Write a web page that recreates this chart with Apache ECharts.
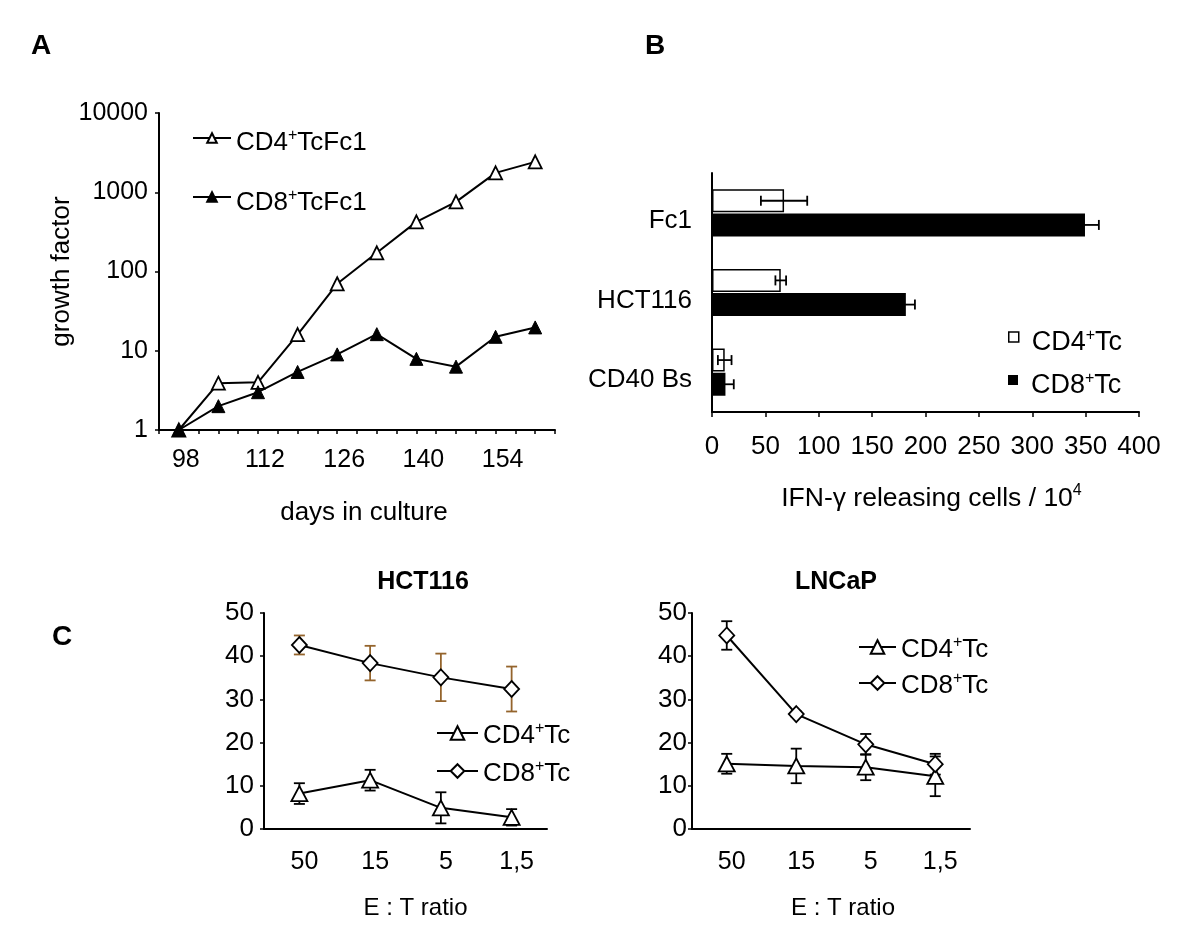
<!DOCTYPE html>
<html><head><meta charset="utf-8">
<script src="https://cdn.jsdelivr.net/npm/echarts@6/dist/echarts.min.js"></script>
<style>html,body{margin:0;padding:0;background:#fff}#c{width:1200px;height:928px}</style>
</head><body><div id="c"></div>
<script>
// ---------- data ----------
const daysA = [98, 105, 112, 119, 126, 133, 140, 147, 154, 161];
const growthCD4 = [1, 3.9, 4.0, 16, 70, 172, 423, 757, 1757, 2417];
const growthCD8 = [1, 2.0, 3.0, 5.4, 9.0, 16.2, 7.9, 6.3, 15.0, 19.7];

const targetsB = ['Fc1', 'HCT116', 'CD40 Bs'];
const ifnCD4 = [67.5, 64.4, 11.9];
const ifnCD4Err = [21.7, 5.0, 6.4];
const ifnCD8 = [349.4, 181.6, 12.6];
const ifnCD8Err = [13.0, 8.5, 7.8];

const ratios = ['50', '15', '5', '1,5'];
const hctCD4 = [8.2, 11.3, 4.9, 2.7];
const hctCD4Err = [2.4, 2.4, 3.6, 1.9];
const hctCD8 = [42.6, 38.4, 35.1, 32.4];
const hctCD8Err = [2.2, 4.0, 5.5, 5.2];
const lncCD4 = [15.1, 14.6, 14.3, 12.2];
const lncCD4Err = [2.3, 4.0, 3.0, 4.6];
const lncCD8 = [44.8, 26.6, 19.6, 15.0];
const lncCD8Err = [3.3, 0.6, 2.4, 2.4];

const yTicksA = [1, 10, 100, 1000, 10000];
const xLabelDaysA = [98, 112, 126, 140, 154];

// ---------- helpers ----------
const FONT = '"Liberation Sans", Arial, Helvetica, sans-serif';
const BLACK = '#000';
const BROWN = '#94642c';
function rich(fs) {
  const ss = Math.round(fs * 0.6);
  return {
    n: {fontSize: fs, fontFamily: FONT, color: BLACK, lineHeight: fs + 4},
    s: {fontSize: ss, fontFamily: FONT, color: BLACK, verticalAlign: 'top', lineHeight: ss + 2},
    c: {fontSize: fs, fontFamily: FONT, color: BLACK, lineHeight: fs + 4, padding: [16, 0, 0, 0]}
  };
}
const legendText = {
  'A-CD4': '{n|CD4}{s|+}{n|TcFc1}',
  'A-CD8': '{n|CD8}{s|+}{n|TcFc1}',
  'B-CD4': '{n|CD4}{s|+}{n|Tc}',
  'B-CD8': '{n|CD8}{s|+}{n|Tc}',
  'HCT-CD4': '{n|CD4}{s|+}{n|Tc}',
  'HCT-CD8': '{n|CD8}{s|+}{n|Tc}',
  'LNC-CD4': '{n|CD4}{s|+}{n|Tc}',
  'LNC-CD8': '{n|CD8}{s|+}{n|Tc}'
};
// cy = centre of the legend icon; pt = extra top padding of the text (text sits about pt/2 lower); pl = extra gap
function lg(name, left, cy, itemWidth, itemHeight, fs, pt, pl, extra) {
  const o = {
    data: [name], left: left, top: cy - (fs + 4) / 2 + pt / 2, orient: 'horizontal',
    itemWidth: itemWidth, itemHeight: itemHeight, padding: 0, selectedMode: false,
    formatter: n => legendText[n],
    textStyle: {fontFamily: FONT, fontSize: fs, color: BLACK, rich: rich(fs), padding: [pt, 0, 0, pl]}
  };
  return Object.assign(o, extra || {});
}
function vErr(color, cap) {
  return function (params, api) {
    const x = api.value(0), lo = api.value(1), hi = api.value(2);
    const a = api.coord([x, hi]), b = api.coord([x, lo]);
    const st = {stroke: color, lineWidth: 1.8, fill: null};
    return {type: 'group', children: [
      {type: 'line', shape: {x1: a[0], y1: a[1], x2: b[0], y2: b[1]}, style: st},
      {type: 'line', shape: {x1: a[0] - cap, y1: a[1], x2: a[0] + cap, y2: a[1]}, style: st},
      {type: 'line', shape: {x1: b[0] - cap, y1: b[1], x2: b[0] + cap, y2: b[1]}, style: st}
    ]};
  };
}
function hErr(offset, cap) {
  return function (params, api) {
    const lo = api.value(0), hi = api.value(1), c = api.value(2);
    const a = api.coord([lo, c]), b = api.coord([hi, c]);
    const y = a[1] + offset;
    const st = {stroke: BLACK, lineWidth: 1.8, fill: null};
    return {type: 'group', children: [
      {type: 'line', shape: {x1: a[0], y1: y, x2: b[0], y2: y}, style: st},
      {type: 'line', shape: {x1: a[0], y1: y - cap, x2: a[0], y2: y + cap}, style: st},
      {type: 'line', shape: {x1: b[0], y1: y - cap, x2: b[0], y2: y + cap}, style: st}
    ]};
  };
}
const errV = (vals, errs) => vals.map((v, i) => [i, v - errs[i], v + errs[i]]);
const errH = (vals, errs) => vals.map((v, i) => [v - errs[i], v + errs[i], i]);

const axLine = {show: true, lineStyle: {color: BLACK, width: 2}};
const axTick = (len) => ({show: true, inside: false, length: len, lineStyle: {color: BLACK, width: 1.5}});
const lbl = (fs, margin, extra) => Object.assign({color: BLACK, fontFamily: FONT, fontSize: fs, margin: margin}, extra || {});
const nameStyle = (fs, extra) => Object.assign({color: BLACK, fontFamily: FONT, fontSize: fs}, extra || {});

const chart = echarts.init(document.getElementById('c'), null, {renderer: 'canvas'});
const titleStyle = (fs, bold) => ({fontFamily: FONT, fontSize: fs, fontWeight: bold ? 'bold' : 'normal', color: BLACK});

chart.setOption({
  animation: false,
  backgroundColor: '#fff',
  title: [
    {text: 'A', left: 41, top: 32, textAlign: 'center', padding: 0, textStyle: titleStyle(28, true)},
    {text: 'B', left: 655, top: 32, textAlign: 'center', padding: 0, textStyle: titleStyle(28, true)},
    {text: 'C', left: 62, top: 623, textAlign: 'center', padding: 0, textStyle: titleStyle(28, true)},
    {text: 'HCT116', left: 423, top: 570, textAlign: 'center', padding: 0, textStyle: titleStyle(25, true)},
    {text: 'LNCaP', left: 836, top: 570, textAlign: 'center', padding: 0, textStyle: titleStyle(25, true)}
  ],
  legend: [
    lg('A-CD4', 192, 138, 38, 12, 26, 10, 0),
    lg('A-CD8', 192, 197, 38, 12, 26, 12, 0),
    lg('B-CD4', 1008, 337, 10, 10, 27, 12, 8, {icon: 'rect', itemStyle: {color: '#fff', borderColor: BLACK, borderWidth: 1.5}}),
    lg('B-CD8', 1008, 380, 10, 10, 27, 12, 8, {icon: 'rect', itemStyle: {color: BLACK, borderWidth: 0}}),
    lg('HCT-CD4', 436, 733, 41, 17, 26, 6, 0),
    lg('HCT-CD8', 436, 771, 41, 17, 26, 6, 0),
    lg('LNC-CD4', 858, 647, 37, 17, 26, 6, 0),
    lg('LNC-CD8', 858, 683, 37, 17, 26, 6, 0)
  ],
  grid: [
    {left: 159, top: 113, width: 396, height: 317, outerBoundsMode: 'none'},
    {left: 712, top: 173, width: 427, height: 239, outerBoundsMode: 'none'},
    {left: 264, top: 613, width: 283, height: 216, outerBoundsMode: 'none'},
    {left: 692, top: 613, width: 278, height: 216, outerBoundsMode: 'none'}
  ],
  xAxis: [
    {gridIndex: 0, type: 'value', min: 94.5, max: 164.5, interval: 3.5,
     axisLine: axLine, axisTick: axTick(4), splitLine: {show: false},
     axisLabel: lbl(25, 18, {padding: [0, 0, 0, 14], formatter: v => {
       const r = Math.round(v * 10) / 10; return xLabelDaysA.indexOf(r) >= 0 ? String(r) : '';
     }}),
     name: 'days in culture', nameLocation: 'middle', nameGap: 70,
     nameTextStyle: nameStyle(26, {padding: [0, 0, 0, 14]})},
    {gridIndex: 1, type: 'value', min: 0, max: 400, interval: 50,
     axisLine: axLine, axisTick: axTick(5), splitLine: {show: false},
     axisLabel: lbl(26, 22),
     name: 'IFN-γ releasing cells / {n|10}{s|4}', nameLocation: 'middle', nameGap: 71,
     nameTextStyle: nameStyle(26.5, {rich: rich(26.5), lineHeight: 30, padding: [0, 0, 0, 12]})},
    {gridIndex: 2, type: 'category', data: ratios, boundaryGap: true,
     axisLine: axLine, axisTick: {show: false}, splitLine: {show: false},
     axisLabel: lbl(25, 21, {padding: [0, 0, 0, 10]}),
     name: 'E : T ratio', nameLocation: 'middle', nameGap: 67,
     nameTextStyle: nameStyle(24, {padding: [0, 0, 0, 20]})},
    {gridIndex: 3, type: 'category', data: ratios, boundaryGap: true,
     axisLine: axLine, axisTick: {show: false}, splitLine: {show: false},
     axisLabel: lbl(25, 21, {padding: [0, 0, 0, 10]}),
     name: 'E : T ratio', nameLocation: 'middle', nameGap: 67,
     nameTextStyle: nameStyle(24, {padding: [0, 0, 0, 24]})}
  ],
  yAxis: [
    {gridIndex: 0, type: 'log', logBase: 10, min: yTicksA[0], max: yTicksA[yTicksA.length - 1],
     axisLine: axLine, axisTick: axTick(4), splitLine: {show: false}, minorTick: {show: false},
     axisLabel: lbl(25, 11, {formatter: v => String(Math.round(v))}),
     name: 'growth factor', nameLocation: 'middle', nameGap: 69, nameRotate: 90,
     nameTextStyle: nameStyle(26)},
    {gridIndex: 1, type: 'category', data: targetsB, inverse: true,
     axisLine: axLine, axisTick: {show: false}, splitLine: {show: false},
     axisLabel: lbl(26, 20, {formatter: v => '{c|' + v + '}', rich: rich(26)})},
    {gridIndex: 2, type: 'value', min: 0, max: 50, interval: 10,
     axisLine: axLine, axisTick: axTick(4), splitLine: {show: false},
     axisLabel: lbl(26, 10)},
    {gridIndex: 3, type: 'value', min: 0, max: 50, interval: 10,
     axisLine: axLine, axisTick: axTick(4), splitLine: {show: false},
     axisLabel: lbl(26, 5)}
  ],
  series: [
    // Panel A
    {type: 'line', name: 'A-CD4', xAxisIndex: 0, yAxisIndex: 0, z: 3,
     data: daysA.map((d, i) => [d, growthCD4[i]]),
     symbol: 'triangle', symbolSize: 13, showSymbol: true,
     lineStyle: {color: BLACK, width: 2}, itemStyle: {color: '#fff', borderColor: BLACK, borderWidth: 1.8}},
    {type: 'line', name: 'A-CD8', xAxisIndex: 0, yAxisIndex: 0, z: 3,
     data: daysA.map((d, i) => [d, growthCD8[i]]),
     symbol: 'triangle', symbolSize: 13, showSymbol: true,
     lineStyle: {color: BLACK, width: 2}, itemStyle: {color: BLACK, borderColor: BLACK, borderWidth: 1}},
    // Panel B
    {type: 'bar', name: 'B-CD4', xAxisIndex: 1, yAxisIndex: 1, data: ifnCD4,
     barWidth: 23, barGap: '5%', itemStyle: {color: '#fff', borderColor: BLACK, borderWidth: 1.5}},
    {type: 'bar', name: 'B-CD8', xAxisIndex: 1, yAxisIndex: 1, data: ifnCD8,
     barWidth: 23, barGap: '5%', itemStyle: {color: BLACK}},
    {type: 'custom', name: 'errB4', xAxisIndex: 1, yAxisIndex: 1, z: 5,
     data: errH(ifnCD4, ifnCD4Err), encode: {x: [0, 1], y: 2}, renderItem: hErr(-12.1, 5)},
    {type: 'custom', name: 'errB8', xAxisIndex: 1, yAxisIndex: 1, z: 5,
     data: errH(ifnCD8, ifnCD8Err), encode: {x: [0, 1], y: 2}, renderItem: hErr(12.1, 5)},
    // Panel C left
    {type: 'custom', name: 'errH4', xAxisIndex: 2, yAxisIndex: 2, z: 1,
     data: errV(hctCD4, hctCD4Err), encode: {x: 0, y: [1, 2]}, renderItem: vErr(BLACK, 5.5)},
    {type: 'custom', name: 'errH8', xAxisIndex: 2, yAxisIndex: 2, z: 1,
     data: errV(hctCD8, hctCD8Err), encode: {x: 0, y: [1, 2]}, renderItem: vErr(BROWN, 5.5)},
    {type: 'line', name: 'HCT-CD4', xAxisIndex: 2, yAxisIndex: 2, z: 3, data: hctCD4,
     symbol: 'triangle', symbolSize: [16, 15], showSymbol: true,
     lineStyle: {color: BLACK, width: 2}, itemStyle: {color: '#fff', borderColor: BLACK, borderWidth: 1.8}},
    {type: 'line', name: 'HCT-CD8', xAxisIndex: 2, yAxisIndex: 2, z: 3, data: hctCD8,
     symbol: 'diamond', symbolSize: [15, 16], showSymbol: true,
     lineStyle: {color: BLACK, width: 2}, itemStyle: {color: '#fff', borderColor: BLACK, borderWidth: 1.8}},
    // Panel C right
    {type: 'custom', name: 'errL4', xAxisIndex: 3, yAxisIndex: 3, z: 1,
     data: errV(lncCD4, lncCD4Err), encode: {x: 0, y: [1, 2]}, renderItem: vErr(BLACK, 5.5)},
    {type: 'custom', name: 'errL8', xAxisIndex: 3, yAxisIndex: 3, z: 1,
     data: errV(lncCD8, lncCD8Err), encode: {x: 0, y: [1, 2]}, renderItem: vErr(BLACK, 5.5)},
    {type: 'line', name: 'LNC-CD4', xAxisIndex: 3, yAxisIndex: 3, z: 3, data: lncCD4,
     symbol: 'triangle', symbolSize: [16, 15], showSymbol: true,
     lineStyle: {color: BLACK, width: 2}, itemStyle: {color: '#fff', borderColor: BLACK, borderWidth: 1.8}},
    {type: 'line', name: 'LNC-CD8', xAxisIndex: 3, yAxisIndex: 3, z: 3, data: lncCD8,
     symbol: 'diamond', symbolSize: [15, 16], showSymbol: true,
     lineStyle: {color: BLACK, width: 2}, itemStyle: {color: '#fff', borderColor: BLACK, borderWidth: 1.8}}
  ]
});
</script>
</body></html>
